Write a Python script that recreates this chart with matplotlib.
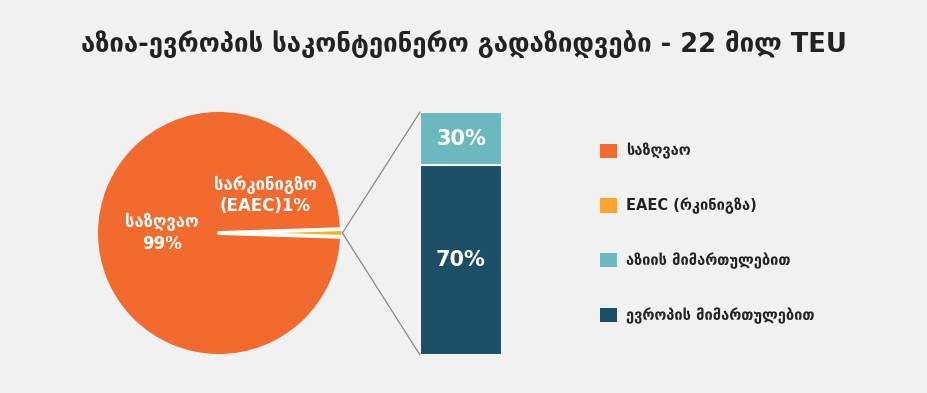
import matplotlib
matplotlib.use("Agg")
import numpy as np
import matplotlib.pyplot as plt
from matplotlib.patches import Patch, ConnectionPatch

# Data
pie_labels = ["სარკინიგზო\n(EAEC)1%", "საზღვაო\n99%"]
pie_values = [1, 99]
pie_colors = ["#f9b21b", "#f26a2e"]

bar_labels = ["70%", "30%"]
bar_heights = [78, 22]   # segment sizes as drawn in the picture
bar_colors = ["#1c4e66", "#6cb8bf"]

legend_labels = ["საზღვაო", "EAEC (რკინიგზა)", "აზიის მიმართულებით", "ევროპის მიმართულებით"]
legend_colors = ["#f26a2e", "#fba631", "#6cb8bf", "#1c4e66"]

title = "აზია-ევროპის საკონტეინერო გადაზიდვები - 22 მილ TEU"

bg = "#f1f1f1"
plt.rcParams["font.family"] = ["DejaVu Sans"]

W, H = 927, 393
fig = plt.figure(figsize=(W / 100, H / 100), dpi=100, facecolor=bg)

fig.text(0.5, 1 - 45 / H, title, ha="center", va="center",
         fontsize=18.5, fontweight="bold", color="#222222")

# Pie
ax_pie = fig.add_axes([98 / W, 39 / H, 242 / W, 242 / H])
ax_pie.set_facecolor(bg)
wedges, _ = ax_pie.pie(pie_values, colors=pie_colors, startangle=-1.8,
                       explode=[0.012, 0], wedgeprops=dict(linewidth=0))
for w in wedges:
    w.set_clip_on(False)
# white separators along the small wedge
sw = wedges[0]
for ang in (sw.theta1, sw.theta2):
    a = np.deg2rad(ang)
    ax_pie.plot([0, 1.015 * np.cos(a)], [0, 1.015 * np.sin(a)], color="white",
                linewidth=2.8, solid_capstyle="round", clip_on=False)
ax_pie.set_aspect("equal")
ax_pie.set_xlim(-1.0, 1.0)
ax_pie.set_ylim(-1.0, 1.0)
ax_pie.axis("off")
ax_pie.text(-0.47, 0.0, pie_labels[1], ha="center", va="center", color="white",
            fontsize=12, fontweight="bold", linespacing=1.25)
ax_pie.text(0.38, 0.31, pie_labels[0], ha="center", va="center", color="white",
            fontsize=12, fontweight="bold", linespacing=1.25)

# Bar
ax_bar = fig.add_axes([420 / W, 38 / H, 82 / W, 243 / H])
ax_bar.set_facecolor(bg)
bottom = 0
for h, c, lab in zip(bar_heights, bar_colors, bar_labels):
    ax_bar.bar(0, h, bottom=bottom, width=1, color=c, edgecolor=bg, linewidth=1.5)
    ax_bar.text(0, bottom + h / 2, lab, ha="center", va="center", color="white",
                fontsize=15, fontweight="bold")
    bottom += h
ax_bar.set_xlim(-0.5, 0.5)
ax_bar.set_ylim(0, sum(bar_heights))
ax_bar.axis("off")

# connector lines
for yb in (0, 1):
    con = ConnectionPatch(xyA=(1.02, 0.0), coordsA=ax_pie.transData,
                          xyB=(0.0, yb), coordsB=ax_bar.transAxes,
                          color="#888888", linewidth=0.9)
    fig.add_artist(con)

# Legend
handles = [Patch(facecolor=c, edgecolor="none") for c in legend_colors]
leg = fig.legend(handles, legend_labels, loc="upper left",
                 bbox_to_anchor=(587 / W, 1 - 130 / H), frameon=False,
                 labelspacing=2.62, handlelength=1.15, handleheight=1.15,
                 handletextpad=0.6, prop=dict(size=10.5, weight="bold"))
for t in leg.get_texts():
    t.set_color("#222222")

fig.savefig("out.png", dpi=100, facecolor=bg)
